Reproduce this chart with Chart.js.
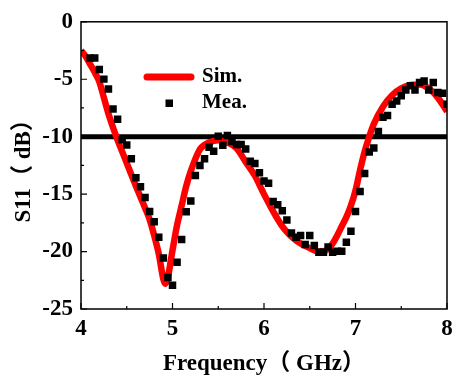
<!DOCTYPE html>
<html><head><meta charset="utf-8">
<script src="https://cdn.jsdelivr.net/npm/chart.js@4.4.1/dist/chart.umd.min.js"></script>
<style>html,body{margin:0;padding:0;background:#fff;} canvas{display:block;}</style>
</head><body>
<canvas id="c" width="463" height="381"></canvas>
<script>
const simFreq = [4.0,4.05,4.1,4.15,4.2,4.25,4.3,4.35,4.4,4.45,4.5,4.6,4.7,4.75,4.8,4.85,4.9,4.92,4.95,5.0,5.05,5.1,5.15,5.2,5.3,5.4,5.5,5.6,5.7,5.8,5.9,6.0,6.1,6.2,6.3,6.4,6.5,6.6,6.7,6.75,6.8,6.85,6.9,6.95,7.0,7.05,7.1,7.15,7.2,7.3,7.4,7.5,7.6,7.7,7.8,7.9,8.0];
const simS11 = [-2.5,-3.0,-3.7,-4.4,-5.2,-6.6,-8.0,-9.2,-10.3,-11.3,-12.3,-14.3,-16.2,-17.2,-18.6,-20.2,-22.4,-22.8,-22.2,-19.9,-17.7,-16.0,-14.3,-13.0,-11.1,-10.5,-10.3,-10.5,-11.0,-12.2,-13.4,-15.0,-16.5,-17.8,-18.7,-19.3,-19.7,-20.0,-19.8,-19.3,-18.6,-17.8,-17.0,-16.0,-14.7,-12.9,-11.3,-10.0,-8.9,-7.4,-6.4,-5.8,-5.5,-5.45,-5.8,-6.6,-7.8];
const meaFreq = [4.10,4.15,4.20,4.25,4.30,4.35,4.40,4.45,4.50,4.55,4.60,4.65,4.70,4.75,4.80,4.85,4.90,4.95,5.00,5.05,5.10,5.15,5.20,5.25,5.30,5.35,5.40,5.45,5.50,5.55,5.60,5.65,5.70,5.75,5.80,5.85,5.90,5.95,6.00,6.05,6.10,6.15,6.20,6.25,6.30,6.35,6.40,6.45,6.50,6.55,6.60,6.65,6.70,6.75,6.80,6.85,6.90,6.95,7.00,7.05,7.10,7.15,7.20,7.25,7.30,7.35,7.40,7.45,7.50,7.55,7.60,7.65,7.70,7.75,7.80,7.85,7.90,7.95,8.00];
const meaS11 = [-3.15,-3.15,-4.16,-4.99,-5.85,-7.58,-8.48,-10.26,-10.73,-11.93,-13.58,-14.35,-15.30,-16.51,-17.40,-18.76,-20.57,-22.26,-22.93,-20.92,-18.95,-16.54,-15.59,-13.37,-12.50,-11.93,-10.92,-11.27,-9.97,-10.75,-9.89,-10.41,-10.69,-10.69,-11.07,-12.13,-12.33,-13.14,-13.86,-14.06,-15.65,-15.93,-16.45,-17.25,-18.38,-18.76,-18.61,-19.39,-18.61,-19.47,-20.05,-20.05,-19.60,-20.05,-19.97,-19.97,-19.19,-18.24,-16.51,-14.78,-13.20,-11.33,-10.98,-9.54,-8.31,-8.16,-7.18,-6.89,-6.43,-5.94,-5.57,-5.94,-5.28,-5.16,-5.94,-5.28,-6.15,-6.23,-7.18];
const refFreq = [4, 8];
const refS11 = [-10, -10];
const xMajorTicks = [4, 5, 6, 7, 8];
const xMinorTicks = [4.5, 5.5, 6.5, 7.5];
const yMajorTicks = [-25, -20, -15, -10, -5, 0];
const yMinorTicks = [-22.5, -17.5, -12.5, -7.5, -2.5];
const seriesNames = ['Sim.', 'Mea.'];
const xTitle = 'Frequency\uFF08 GHz\uFF09';
const yTitle = 'S11\uFF08 dB\uFF09';

const FAMILY = "'Liberation Serif', 'Noto Sans CJK SC', serif";
const pts = (xs, ys) => xs.map((x, i) => ({x: x, y: ys[i]}));

const frameTicks = {
  id: 'frameTicks',
  afterDatasetsDraw(chart) {
    const {ctx, chartArea: a, scales: {x, y}} = chart;
    ctx.save();
    ctx.strokeStyle = '#000';
    ctx.lineWidth = 1.5;
    ctx.strokeRect(a.left, a.top, a.right - a.left, a.bottom - a.top);
    ctx.lineWidth = 1.2;
    ctx.beginPath();
    xMajorTicks.forEach(v => { const p = x.getPixelForValue(v); ctx.moveTo(p, a.bottom); ctx.lineTo(p, a.bottom - 6); });
    xMinorTicks.forEach(v => { const p = x.getPixelForValue(v); ctx.moveTo(p, a.bottom); ctx.lineTo(p, a.bottom - 3); });
    yMajorTicks.forEach(v => { const p = y.getPixelForValue(v); ctx.moveTo(a.left, p); ctx.lineTo(a.left + 6, p); });
    yMinorTicks.forEach(v => { const p = y.getPixelForValue(v); ctx.moveTo(a.left, p); ctx.lineTo(a.left + 3, p); });
    ctx.stroke();
    ctx.restore();
  }
};

const legendBox = {
  id: 'legendBox',
  afterDraw(chart) {
    const {ctx} = chart;
    const sim = chart.data.datasets[0], mea = chart.data.datasets[1];
    ctx.save();
    ctx.strokeStyle = sim.borderColor;
    ctx.lineWidth = 7;
    ctx.lineCap = 'round';
    ctx.beginPath(); ctx.moveTo(147, 77); ctx.lineTo(191, 77); ctx.stroke();
    ctx.fillStyle = mea.backgroundColor;
    ctx.fillRect(165.5, 99.5, 7.5, 7.5);
    ctx.fillStyle = '#000';
    ctx.font = 'bold 21px ' + FAMILY;
    ctx.textBaseline = 'middle';
    ctx.textAlign = 'left';
    ctx.fillText(sim.label, 202, 77);
    ctx.fillText(mea.label, 202, 103);
    ctx.restore();
  }
};

new Chart(document.getElementById('c'), {
  type: 'scatter',
  data: {
    datasets: [
      { label: seriesNames[0], data: pts(simFreq, simS11), showLine: true, borderColor: '#ff0000', backgroundColor: '#ff0000', borderWidth: 6.5, pointRadius: 0, cubicInterpolationMode: 'monotone', order: 1 },
      { label: seriesNames[1], data: pts(meaFreq, meaS11), showLine: false, pointStyle: 'rect', pointRadius: 5.3, borderWidth: 0, backgroundColor: '#000', borderColor: '#000', order: 0 },
      { label: '-10 dB', data: pts(refFreq, refS11), showLine: true, borderColor: '#000', borderWidth: 5, pointRadius: 0, order: 2 }
    ]
  },
  options: {
    responsive: false,
    animation: false,
    devicePixelRatio: 1,
    layout: { padding: { top: 19, right: 16, left: 0, bottom: 0 } },
    plugins: { legend: { display: false }, tooltip: { enabled: false } },
    scales: {
      x: {
        type: 'linear', min: 4, max: 8,
        afterFit: s => { s.height = 72; },
        afterBuildTicks: s => { s.ticks = xMajorTicks.map(v => ({value: v})); },
        grid: { display: false, drawTicks: false },
        border: { display: false },
        ticks: { color: '#000', padding: 6, maxRotation: 0, autoSkip: false, font: { family: FAMILY, size: 23, weight: 'bold' } },
        title: { display: true, text: xTitle, color: '#000', padding: { top: 0, bottom: 3 }, font: { family: FAMILY, size: 23, weight: 'bold' } }
      },
      y: {
        type: 'linear', min: -25, max: 0,
        afterFit: s => { s.width = 81; },
        afterBuildTicks: s => { s.ticks = yMajorTicks.map(v => ({value: v})); },
        grid: { display: false, drawTicks: false },
        border: { display: false },
        ticks: { color: '#000', padding: 8, autoSkip: false, font: { family: FAMILY, size: 23, weight: 'bold' } },
        title: { display: true, text: yTitle, color: '#000', padding: { top: 10, bottom: 0 }, font: { family: FAMILY, size: 23, weight: 'bold' } }
      }
    }
  },
  plugins: [frameTicks, legendBox]
});
</script>
</body></html>
